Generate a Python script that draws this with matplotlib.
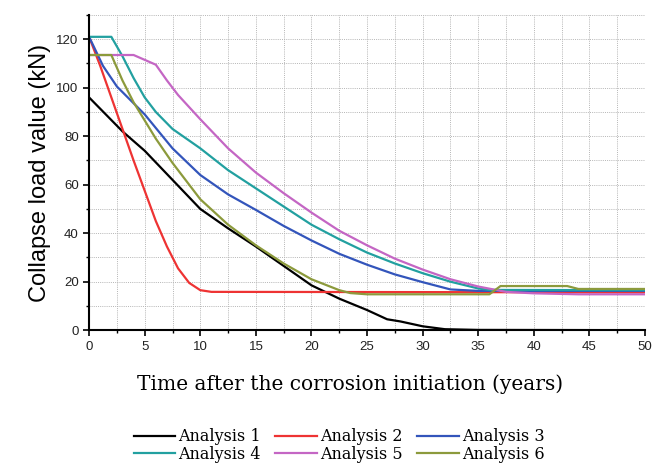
import numpy as np
import matplotlib
matplotlib.use('Agg')
import matplotlib.pyplot as plt
from matplotlib.ticker import MultipleLocator

# data (time in years, collapse load in kN)
t1 = [0, 3, 5, 7.5, 10, 12.5, 15, 17.5, 20, 22.5, 25, 26.8, 28, 30, 32, 35, 50]
a1 = [96, 82, 74, 62, 50, 42, 34.5, 26.5, 18.5, 13, 8.3, 4.5, 3.6, 1.6, 0.4, 0.1, 0]

t2 = [0, 1, 2, 3, 4, 5, 6, 7, 8, 9, 10, 11, 50]
a2 = [121, 109, 96, 83, 70, 57.5, 45, 34.5, 25.5, 19.5, 16.5, 15.8, 15.6]

t3 = [0, 1.25, 2.5, 5, 7.5, 10, 12.5, 15, 17.5, 20, 22.5, 25, 27.5, 30, 32.5, 35, 50]
a3 = [121, 109, 100.5, 89, 75, 64, 56, 49.6, 43, 37, 31.5, 27, 23, 19.8, 16.8, 16.2, 16.2]

t4 = [0, 2, 3, 4, 5, 6, 7.5, 10, 12.5, 15, 17.5, 20, 22.5, 25, 27.5, 30, 32.5, 35, 36, 50]
a4 = [121, 121, 113, 104, 96, 90, 83, 75, 66, 58.5, 51, 43.5, 37.5, 32, 27.5, 23.5, 20, 17.2, 16.6, 16.5]

t5 = [0, 4, 5, 6, 7, 8, 10, 12.5, 15, 17.5, 20, 22.5, 25, 27.5, 30, 32.5, 35, 37.5, 40, 44, 50]
a5 = [113.5, 113.5, 111.5, 109.5, 103, 97, 87, 75, 65, 56.5, 48.5, 41, 35, 29.5, 25, 21, 18, 15.8, 15.2, 14.8, 14.8]

t6 = [0, 2, 3, 4, 5, 6, 7.5, 10, 12.5, 15, 17.5, 20, 22.5, 23.5, 25, 36, 37, 43, 44, 50]
a6 = [113.5, 113.5, 103, 94, 86.5, 79, 69, 54, 43.5, 35, 27.5, 21, 16.5, 15.3, 14.8, 14.8, 18.2, 18.2, 17, 17]

labels = ['Analysis 1', 'Analysis 2', 'Analysis 3', 'Analysis 4', 'Analysis 5', 'Analysis 6']
colors = ['#000000', '#ee3333', '#3355bb', '#22a0a0', '#c466c4', '#8c9a3c']

fig = plt.figure(figsize=(6.65, 4.69), dpi=100)
ax = fig.add_axes([0.134, 0.296, 0.836, 0.672])

series = [(t1, a1), (t2, a2), (t3, a3), (t4, a4), (t5, a5), (t6, a6)]
lines = []
for (t, a), lab, c in zip(series, labels, colors):
    ln, = ax.plot(t, a, color=c, lw=1.6, label=lab)
    lines.append(ln)

ax.set_xlim(0, 50)
ax.set_ylim(0, 130)
ax.xaxis.set_major_locator(MultipleLocator(5))
ax.xaxis.set_minor_locator(MultipleLocator(2.5))
ax.yaxis.set_major_locator(MultipleLocator(20))
ax.yaxis.set_minor_locator(MultipleLocator(10))
ax.grid(which='both', linestyle=(0, (1, 1.2)), color='#b5b5b5', lw=0.7)
ax.set_axisbelow(True)

for s in ['top', 'right']:
    ax.spines[s].set_visible(False)
for s in ['left', 'bottom']:
    ax.spines[s].set_linewidth(1.5)

ax.tick_params(axis='both', which='major', direction='out', length=4, width=1.2,
               labelsize=9.5, labelcolor='#222222')
ax.tick_params(axis='both', which='minor', direction='out', length=2.5, width=1)
for lb in ax.get_xticklabels() + ax.get_yticklabels():
    lb.set_family('Liberation Sans')

ax.set_ylabel('Collapse load value (kN)', fontsize=17, family='Liberation Sans', labelpad=4)
ax.set_xlabel('Time after the corrosion initiation (years)', fontsize=14.5,
              family='DejaVu Serif')
ax.xaxis.set_label_coords(0.47, -0.14)

# legend filled row-wise: 1 2 3 / 4 5 6
order = [0, 3, 1, 4, 2, 5]
leg = fig.legend([lines[i] for i in order], [labels[i] for i in order],
                 loc='center', bbox_to_anchor=(0.51, 0.05), ncol=3, frameon=False,
                 prop={'family': 'DejaVu Serif', 'size': 11.5}, handlelength=2.6,
                 handletextpad=0.2, columnspacing=0.9, labelspacing=0.05)

fig.savefig('out.png', dpi=100)
